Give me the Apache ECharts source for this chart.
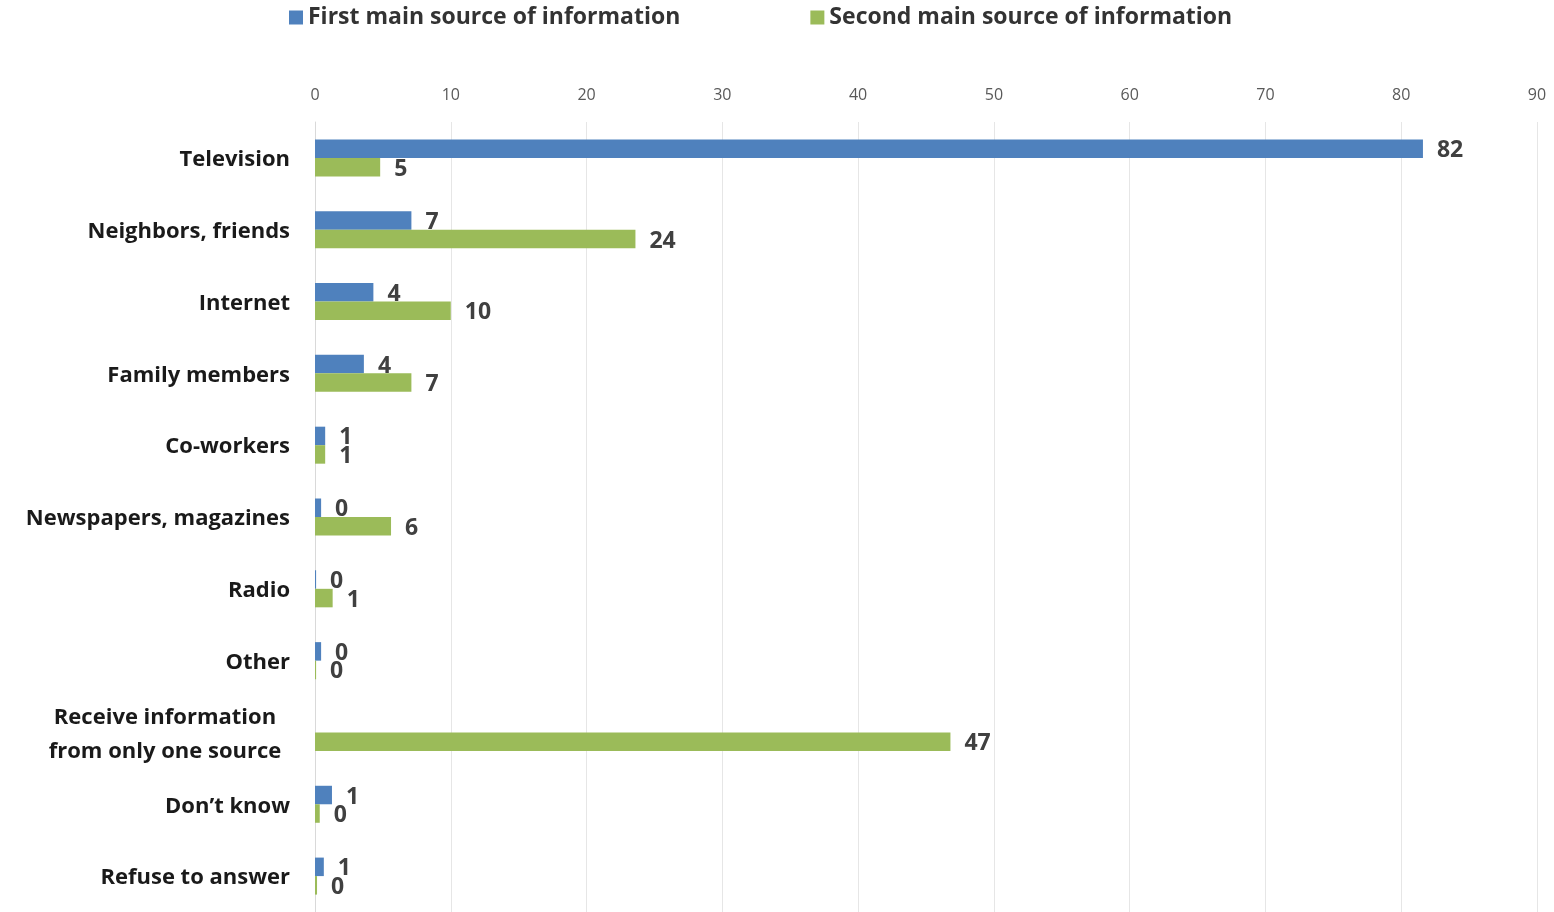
<!DOCTYPE html>
<html><head><meta charset="utf-8">
<script src="https://cdn.jsdelivr.net/npm/echarts@6/dist/echarts.min.js"></script>
<style>html,body{margin:0;padding:0;background:#fff}#c{width:1554px;height:912px}</style>
</head><body><div id="c"></div>
<script>
const categories = ['Television','Neighbors, friends','Internet','Family members','Co-workers','Newspapers, magazines','Radio','Other','Receive information\nfrom only one source','Don\u2019t know','Refuse to answer'];
const firstSource = [81.6, 7.1, 4.3, 3.6, 0.75, 0.45, 0.08, 0.45, null, 1.25, 0.65];
const secondSource = [4.8, 23.6, 10.0, 7.1, 0.75, 5.6, 1.3, 0.08, 46.8, 0.35, 0.15];
const xTicks = [0,10,20,30,40,50,60,70,80,90];
const FONT = '"Open Sans", "Liberation Sans", sans-serif';
const chart = echarts.init(document.getElementById('c'));
const lbl = {show:true, position:'right', distance:14, offset:[0,2], fontFamily:FONT, fontWeight:'bold', fontSize:23, color:'#404040',
  formatter:p => p.value == null ? '' : String(Math.round(p.value))};
const catStyle = {fontFamily:FONT, fontSize:22, fontWeight:'bold', color:'#1a1a1a', lineHeight:34};
chart.setOption({
  animation:false,
  legend:{top:1, left:284, itemGap:130, itemWidth:14, itemHeight:14, icon:'rect',
    textStyle:{fontFamily:FONT, fontSize:23, fontWeight:'bold', color:'#333'}},
  grid:{left:315, right:17, top:122, bottom:-4},
  xAxis:{type:'value', position:'top', min:0, max:90, interval:10,
    axisLine:{show:false}, axisTick:{show:false},
    splitLine:{lineStyle:{color:'#E6E6E6', width:1}},
    axisLabel:{margin:19, fontFamily:FONT, fontSize:16, color:'#595959',
      formatter:v => xTicks.includes(v) ? String(v) : ''}},
  yAxis:{type:'category', inverse:true, data:categories,
    axisLine:{show:true, lineStyle:{color:'#D9D9D9'}}, axisTick:{show:false},
    axisLabel:Object.assign({margin:25, padding:[4,0,0,0],
      formatter:v => v.indexOf('\n') >= 0 ? v.split('\n').map(s => '{c|' + s + '}').join('\n') : v,
      rich:{c:Object.assign({width:250, align:'center'}, catStyle)}}, catStyle)},
  series:[
    {name:'First main source of information', type:'bar', data:firstSource, barWidth:18.5, barGap:'0%',
      itemStyle:{color:'#4F81BD'}, label:lbl},
    {name:'Second main source of information', type:'bar', data:secondSource, barWidth:18.5, barGap:'0%',
      itemStyle:{color:'#9BBB59'}, label:lbl}
  ]
});
</script></body></html>
